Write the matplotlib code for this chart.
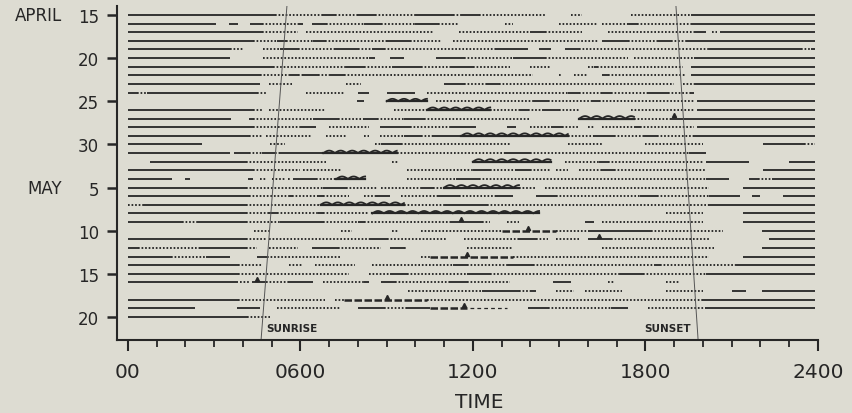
import numpy as np
import matplotlib.pyplot as plt

# ======================================================
# DATA  (kind, start hour, end hour) per day
# s = solid, d = dotted, w = wavy, k = heavy dash, l = light dash
# ======================================================

apr15 = [("s", 0, 5.1), ("d", 5.1, 6.8), ("s", 6.8, 7.2), ("d", 7.2, 8.0), ("s", 8.0, 8.6),
         ("d", 8.6, 10.0), ("s", 10.0, 11.3), ("d", 11.3, 11.6), ("s", 11.6, 12.2),
         ("d", 12.2, 14.5), ("d", 15.4, 15.8), ("d", 17.5, 19.6), ("s", 19.6, 23.9)]
apr16 = [("s", 0, 3.06), ("s", 3.5, 3.84), ("s", 4.24, 4.65), ("d", 4.65, 5.9), ("s", 5.9, 6.1),
         ("s", 6.4, 6.9), ("d", 6.9, 8.2), ("s", 8.2, 8.8), ("d", 8.8, 10.0), ("s", 10.0, 10.8),
         ("d", 10.8, 11.5), ("d", 13.1, 13.4), ("d", 15.0, 16.3), ("d", 16.5, 17.4),
         ("s", 17.4, 17.7), ("d", 17.7, 19.6), ("s", 19.6, 23.9)]
apr17 = [("s", 0, 4.65), ("d", 4.65, 5.9), ("d", 6.2, 10.6), ("d", 11.5, 14.0), ("s", 14.0, 14.5),
         ("d", 14.5, 15.8), ("d", 16.7, 19.7), ("s", 19.7, 20.1), ("d", 20.3, 20.5), ("s", 20.6, 23.9)]
apr18 = [("s", 0, 4.36), ("d", 4.36, 5.17), ("s", 5.17, 5.5), ("d", 5.5, 6.45), ("s", 6.45, 6.85),
         ("d", 6.85, 9.0), ("s", 9.0, 9.8), ("d", 9.8, 10.9), ("d", 11.3, 16.4), ("s", 16.5, 17.4),
         ("d", 17.4, 18.4), ("s", 18.4, 18.9), ("d", 18.9, 19.4), ("s", 19.4, 23.9)]
apr19 = [("s", 0, 3.55), ("d", 3.55, 4.0), ("d", 4.7, 5.3), ("s", 5.3, 5.9), ("d", 5.9, 7.2),
         ("s", 7.2, 8.0), ("d", 8.0, 8.5), ("s", 8.5, 8.9), ("d", 8.9, 12.8), ("s", 12.8, 13.9),
         ("s", 14.3, 14.7), ("s", 15.2, 15.7), ("d", 15.7, 20.2), ("s", 20.2, 23.4),
         ("d", 23.4, 23.75), ("s", 23.75, 23.9)]
apr20 = [("s", 0, 3.55), ("d", 4.7, 8.4), ("s", 8.4, 8.6), ("s", 9.1, 9.6), ("s", 10.7, 11.7),
         ("d", 11.7, 13.4), ("s", 13.4, 14.5), ("d", 14.5, 17.4), ("d", 17.6, 19.7), ("s", 19.7, 23.9)]
apr21 = [("s", 0, 5.06), ("d", 5.06, 7.6), ("s", 7.6, 8.2), ("d", 8.2, 9.2), ("s", 9.2, 10.2),
         ("d", 10.2, 11.2), ("s", 11.2, 12.0), ("d", 12.0, 13.3), ("d", 14.0, 14.7),
         ("d", 16.0, 16.2), ("s", 16.2, 16.3), ("d", 16.3, 19.3), ("s", 19.6, 23.9)]
apr22 = [("s", 0, 4.6), ("d", 4.6, 5.6), ("s", 5.6, 5.9), ("d", 5.9, 6.1), ("s", 6.1, 6.6),
         ("d", 6.6, 7.0), ("s", 7.0, 7.5), ("d", 7.5, 14.1), ("d", 15.0, 15.1), ("d", 15.5, 16.0),
         ("s", 16.5, 16.7), ("d", 16.7, 19.4), ("s", 19.6, 23.9)]
apr23 = [("s", 0, 4.6), ("d", 4.9, 5.7), ("d", 7.6, 8.1), ("s", 11.0, 11.7), ("d", 11.7, 12.5),
         ("s", 12.5, 12.9), ("d", 12.9, 19.0), ("d", 19.3, 19.7), ("s", 19.7, 23.9)]
apr24 = [("s", 0, 0.3), ("d", 0.3, 0.65), ("s", 0.65, 4.5), ("d", 4.5, 4.8), ("d", 6.2, 7.5),
         ("s", 8.0, 8.4), ("s", 9.0, 10.0), ("d", 10.4, 15.3), ("s", 15.3, 15.7), ("d", 15.7, 16.5),
         ("s", 16.5, 16.8), ("d", 16.8, 18.1), ("s", 18.1, 18.8), ("d", 18.8, 19.6), ("s", 19.6, 19.7)]
apr25 = [("s", 7.95, 8.2), ("w", 9.0, 10.4), ("d", 10.7, 14.1), ("s", 14.1, 14.6),
         ("d", 14.6, 16.1), ("s", 16.1, 16.4), ("d", 16.4, 19.7), ("s", 19.8, 23.9)]
apr26 = [("s", 0, 4.36), ("d", 4.36, 4.7), ("d", 4.9, 6.85), ("d", 9.25, 10.4), ("w", 10.4, 12.6),
         ("d", 12.6, 13.6), ("s", 13.6, 13.9), ("d", 13.9, 14.4), ("s", 14.4, 15.0),
         ("d", 15.0, 15.7), ("d", 17.5, 19.7), ("s", 19.8, 23.9)]
apr27 = [("s", 0, 3.6), ("s", 4.2, 4.36), ("d", 4.36, 6.45), ("s", 6.45, 7.3), ("d", 7.3, 8.2),
         ("s", 8.2, 8.65), ("d", 8.65, 9.6), ("s", 9.6, 10.3), ("d", 10.3, 14.0), ("w", 15.7, 17.6),
         ("d", 17.6, 18.9), ("s", 18.9, 19.4), ("s", 19.4, 23.9)]
apr28 = [("s", 0, 4.36), ("d", 4.36, 6.0), ("s", 6.0, 6.55), ("d", 7.0, 8.4), ("s", 8.75, 9.8),
         ("d", 9.8, 11.2), ("s", 11.2, 12.1), ("s", 13.2, 13.5), ("d", 14.0, 14.7),
         ("s", 14.7, 15.1), ("d", 15.1, 15.7), ("d", 16.0, 16.2), ("d", 16.5, 17.6),
         ("s", 17.6, 17.8), ("d", 17.8, 19.7), ("s", 19.8, 23.9)]
apr29 = [("s", 0, 4.2), ("d", 4.2, 4.65), ("d", 4.8, 6.4), ("d", 6.9, 7.6), ("d", 8.2, 8.4),
         ("d", 8.75, 9.6), ("s", 9.6, 10.2), ("d", 10.2, 10.6), ("s", 10.6, 11.6), ("w", 11.6, 15.3),
         ("d", 15.3, 16.2), ("s", 16.2, 16.9), ("d", 16.9, 17.9), ("s", 17.9, 18.4),
         ("d", 18.4, 19.7), ("s", 19.7, 23.9)]
apr30 = [("s", 0, 2.56), ("d", 4.94, 5.46), ("d", 8.6, 8.8), ("s", 8.8, 9.5), ("d", 9.5, 13.3),
         ("d", 15.3, 16.5), ("d", 18.0, 20.0), ("s", 22.1, 23.5), ("d", 23.5, 23.9)]
may1 = [("s", 0, 3.55), ("s", 3.7, 4.2), ("d", 4.2, 4.65), ("s", 4.65, 5.1), ("d", 5.1, 5.3),
        ("s", 5.3, 6.8), ("w", 6.8, 9.35), ("d", 9.35, 13.1), ("s", 13.1, 14.0), ("d", 14.0, 19.5),
        ("s", 19.5, 20.1)]
may2 = [("s", 0.77, 4.1), ("d", 4.1, 6.9), ("d", 9.2, 9.4), ("w", 12.0, 14.7), ("d", 15.2, 16.4),
        ("s", 16.4, 16.7), ("d", 16.7, 20.0), ("s", 20.1, 21.6), ("s", 23.0, 23.9)]
may3 = [("s", 0, 4.36), ("d", 4.36, 6.0), ("d", 6.1, 7.4), ("d", 9.7, 12.0), ("s", 12.0, 12.6),
        ("d", 12.6, 13.5), ("s", 13.5, 14.0), ("d", 14.0, 14.7), ("d", 14.9, 15.3),
        ("d", 15.7, 16.5), ("s", 16.5, 16.9), ("d", 16.9, 20.1), ("s", 22.1, 23.9)]
may4 = [("s", 0, 1.52), ("s", 1.98, 2.15), ("s", 4.19, 4.36), ("d", 4.6, 4.85), ("d", 5.0, 5.5),
        ("d", 5.55, 5.65), ("s", 5.75, 6.55), ("d", 6.55, 7.25), ("w", 7.25, 8.25), ("d", 9.7, 11.4),
        ("s", 11.4, 12.2), ("d", 12.2, 20.1), ("s", 20.1, 20.9), ("s", 21.6, 21.9),
        ("d", 21.9, 22.4), ("s", 22.4, 23.9)]
may5 = [("s", 0, 4.1), ("d", 4.1, 6.8), ("s", 6.8, 7.6), ("d", 7.6, 8.7), ("d", 8.8, 10.2),
        ("s", 10.2, 10.6), ("d", 10.6, 11.0), ("w", 11.0, 13.6), ("d", 13.6, 14.2),
        ("d", 14.5, 20.2), ("s", 21.4, 23.9)]
may6 = [("s", 0, 4.2), ("d", 4.2, 5.6), ("s", 5.6, 5.7), ("d", 5.7, 6.6), ("s", 6.6, 6.8),
        ("d", 6.8, 7.7), ("d", 8.2, 8.6), ("s", 8.6, 9.1), ("d", 9.5, 10.8), ("s", 10.8, 11.5),
        ("d", 11.5, 12.8), ("s", 12.8, 13.4), ("s", 14.2, 14.9), ("d", 14.9, 17.8),
        ("s", 17.8, 18.4), ("d", 18.4, 20.2), ("s", 20.2, 21.3), ("s", 21.7, 22.0), ("s", 22.8, 23.9)]
may7 = [("d", 0, 0.53), ("s", 0.53, 4.1), ("d", 4.1, 6.7), ("w", 6.7, 9.6), ("d", 9.6, 11.0),
        ("s", 11.0, 12.5), ("d", 12.5, 20.2), ("s", 20.2, 23.9)]
may8 = [("s", 0, 4.1), ("d", 4.1, 4.9), ("s", 4.9, 5.2), ("d", 5.2, 6.6), ("s", 6.6, 6.8),
        ("d", 6.8, 8.4), ("w", 8.5, 14.3), ("d", 18.7, 20.0), ("s", 21.4, 23.9)]
may9 = [("s", 0, 1.87), ("d", 1.87, 2.4), ("s", 2.4, 4.1), ("d", 4.1, 5.3), ("s", 5.3, 6.8),
        ("d", 6.8, 8.0), ("s", 8.0, 8.2), ("d", 8.2, 11.2), ("s", 11.2, 12.3), ("d", 12.3, 12.6),
        ("d", 13.2, 13.6), ("s", 15.9, 16.2), ("d", 16.5, 20.0), ("s", 21.4, 23.9)]
may10 = [("d", 4.4, 4.95), ("d", 7.4, 7.8), ("d", 9.2, 9.4), ("d", 10.2, 13.0), ("k", 13.0, 14.9),
         ("d", 14.9, 16.0), ("s", 16.0, 18.2), ("d", 18.2, 20.7), ("s", 22.05, 23.9)]
may11 = [("s", 0, 4.1), ("d", 4.1, 4.8), ("d", 4.9, 8.4), ("s", 8.4, 9.0), ("d", 9.0, 11.1),
         ("d", 11.7, 13.6), ("s", 13.6, 14.2), ("d", 14.2, 14.6), ("d", 14.9, 15.7),
         ("s", 16.0, 16.8), ("d", 16.8, 20.2), ("s", 22.3, 23.9)]
may12 = [("s", 0, 0.35), ("d", 0.35, 2.5), ("s", 2.5, 4.1), ("d", 4.1, 4.5), ("d", 4.9, 5.9),
         ("s", 6.4, 7.3), ("d", 7.3, 8.8), ("s", 9.1, 9.6), ("d", 9.6, 9.7), ("d", 11.8, 13.4),
         ("d", 16.5, 20.4), ("s", 22.05, 23.9)]
may13 = [("s", 0, 1.5), ("d", 1.5, 2.7), ("s", 2.7, 3.55), ("s", 4.5, 4.85), ("d", 4.85, 7.4),
         ("d", 10.2, 10.5), ("k", 10.5, 13.4), ("d", 13.4, 20.2), ("s", 21.4, 23.9)]
may14 = [("s", 0, 3.84), ("d", 3.84, 4.65), ("d", 5.6, 6.1), ("d", 6.5, 7.9), ("d", 8.5, 11.3),
         ("s", 11.3, 11.8), ("d", 11.8, 13.2), ("s", 13.2, 14.1), ("d", 14.1, 18.3),
         ("s", 18.3, 18.5), ("d", 18.5, 21.1), ("s", 21.1, 23.9)]
may15 = [("s", 0, 3.84), ("d", 3.84, 7.7), ("d", 8.4, 9.1), ("s", 9.1, 9.7), ("d", 9.7, 11.8),
         ("s", 11.8, 12.6), ("d", 12.6, 17.1), ("s", 17.1, 17.9), ("d", 17.9, 20.1), ("s", 20.1, 23.9)]
may16 = [("s", 0, 3.84), ("d", 3.9, 4.2), ("s", 4.3, 4.8), ("d", 4.8, 5.6), ("s", 5.6, 6.45),
         ("d", 6.8, 8.2), ("s", 8.2, 8.4), ("s", 8.8, 9.3), ("d", 9.3, 11.2), ("s", 11.2, 11.8),
         ("d", 11.8, 13.3), ("s", 14.8, 15.4), ("d", 16.7, 16.9), ("d", 18.7, 19.2)]
may17 = [("d", 9.75, 12.3), ("s", 12.3, 13.6), ("d", 13.6, 14.0), ("s", 14.0, 14.2),
         ("d", 14.9, 15.5), ("d", 15.9, 17.2), ("d", 18.7, 20.0), ("s", 21.0, 21.5), ("s", 22.05, 23.9)]
may18 = [("s", 0, 3.84), ("d", 3.84, 6.85), ("d", 7.2, 7.5), ("k", 7.5, 10.4), ("d", 10.4, 20.0),
         ("s", 20.0, 23.9)]
may19 = [("s", 0, 2.33), ("s", 3.78, 4.6), ("d", 5.2, 7.4), ("s", 8.0, 8.9), ("d", 8.9, 9.7),
         ("s", 9.7, 10.5), ("k", 10.5, 11.8), ("l", 11.9, 13.2), ("s", 13.9, 14.6),
         ("d", 14.6, 16.8), ("s", 16.8, 17.4), ("d", 18.1, 20.1), ("s", 20.1, 23.9)]
may20 = [("s", 0, 4.13), ("d", 4.13, 4.94)]

days = [apr15, apr16, apr17, apr18, apr19, apr20, apr21, apr22, apr23, apr24,
        apr25, apr26, apr27, apr28, apr29, apr30, may1, may2, may3, may4,
        may5, may6, may7, may8, may9, may10, may11, may12, may13, may14,
        may15, may16, may17, may18, may19, may20]

# small event marks (day index, hour)
marks_day = [12, 24, 25, 26, 28, 31, 33, 34]
marks_hour = [19.0, 11.6, 13.9, 16.4, 11.8, 4.5, 9.0, 11.7]

# sunrise / sunset lines (hour at top and bottom of the frame)
sunrise_hour = [5.53, 4.63]
sunset_hour = [19.06, 19.83]

ytick_days = [0, 5, 10, 15, 20, 25, 30, 35]
ytick_labels = ["15", "20", "25", "30", "5", "10", "15", "20"]
month_labels = ["APRIL", "MAY"]
month_days = [0, 20]

xtick_hours = [0, 6, 12, 18, 24]
xtick_labels = ["00", "0600", "1200", "1800", "2400"]

# ======================================================
# PLOT
# ======================================================

BG = "#dddcd2"
INK = "#262626"
plt.rcParams["font.family"] = ["DejaVu Sans"]

fig = plt.figure(figsize=(8.53, 4.14), dpi=100, facecolor=BG)
ax = fig.add_axes([117 / 853, 1 - 341 / 414, 701 / 853, 334 / 414])
ax.set_facecolor(BG)

Y_TOP, Y_BOT = -1.04, 37.67
ax.set_xlim(-0.38, 24)
ax.set_ylim(Y_BOT, Y_TOP)

for i, segs in enumerate(days):
    for kind, a, b in segs:
        if kind == "s":
            ax.plot([a, b], [i, i], color=INK, lw=1.3, solid_capstyle="butt")
        elif kind == "d":
            ax.plot([a, b], [i, i], color=INK, lw=1.35, linestyle=(0, (0.9, 1.0)))
        elif kind == "k":
            ax.plot([a, b], [i, i], color=INK, lw=1.8, linestyle=(0, (3, 1)))
        elif kind == "l":
            ax.plot([a, b], [i, i], color=INK, lw=0.9, linestyle=(0, (3, 2.5)))
        elif kind == "w":
            xs = np.linspace(a, b, 200)
            bump = np.abs(np.sin(np.pi * (xs - a) / 0.4))
            ax.plot(xs, i - 0.28 * bump, color=INK, lw=1.3)
            ax.plot([a, b], [i, i], color=INK, lw=1.6)

ax.plot(marks_hour, np.array(marks_day) - 0.35, linestyle="none", marker="^",
        ms=3, color=INK)

ax.plot(sunrise_hour, [Y_TOP, Y_BOT], color="#555555", lw=0.7)
ax.plot(sunset_hour, [Y_TOP, Y_BOT], color="#555555", lw=0.7)

ax.text(4.8, 36.3, "SUNRISE", fontsize=7.5, fontweight="bold", color=INK, va="center")
ax.text(17.95, 36.3, "SUNSET", fontsize=7.5, fontweight="bold", color=INK, va="center")

# ======================================================
# AXES
# ======================================================

for side in ["top", "right"]:
    ax.spines[side].set_visible(False)
for side in ["left", "bottom"]:
    ax.spines[side].set_linewidth(1.5)
    ax.spines[side].set_color(INK)

ax.set_yticks(ytick_days)
ax.set_yticklabels(ytick_labels)
ax.set_xticks(xtick_hours)
ax.set_xticklabels(xtick_labels)
ax.set_xticks(range(0, 25), minor=True)

ax.tick_params(axis="y", direction="out", length=7, width=1.8, pad=6,
               labelsize=12, colors=INK)
ax.tick_params(axis="x", which="major", direction="out", length=8, width=1.5, pad=8,
               labelsize=14.5, colors=INK)
ax.tick_params(axis="x", which="minor", direction="out", length=5, width=1.3, colors=INK)

for label, d in zip(month_labels, month_days):
    ax.text(-0.0785, d, label, transform=ax.get_yaxis_transform(), ha="right",
            va="center", fontsize=12, color=INK)

fig.text(479 / 853, 1 - 403 / 414, "TIME", ha="center", va="center",
         fontsize=14.5, color=INK)

fig.savefig("out.png", dpi=100, facecolor=BG)
